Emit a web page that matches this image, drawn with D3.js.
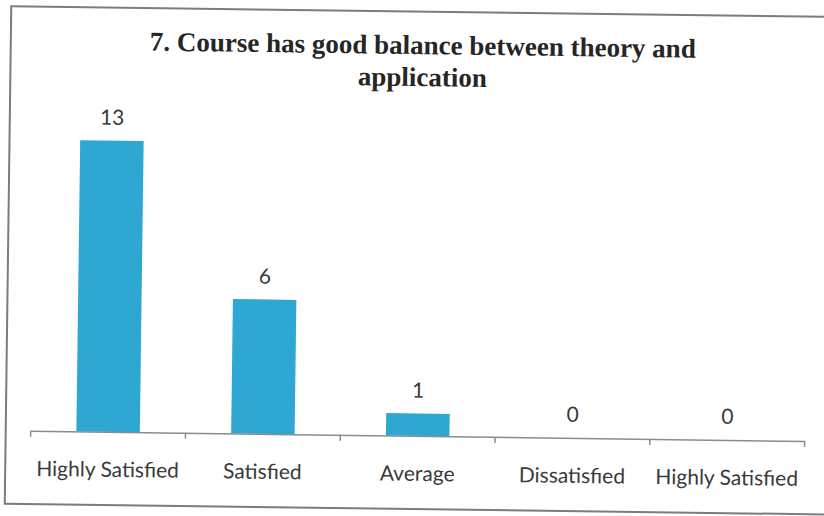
<!DOCTYPE html>
<html>
<head>
<meta charset="utf-8">
<script src="https://cdn.jsdelivr.net/npm/d3@7"></script>
<style>
  html, body { margin: 0; padding: 0; background: #ffffff; }
  svg { display: block; }
</style>
</head>
<body>
<svg id="chart" width="824" height="516"></svg>
<script>
const categories = ["Highly Satisfied", "Satisfied", "Average", "Dissatisfied", "Highly Satisfied "];
const values = [13, 6, 1, 0, 0];
const titleLines = ["7. Course has good balance between theory and", "application"];

const W = 824, H = 516;
const svg = d3.select("#chart");
svg.append("rect").attr("width", W).attr("height", H).attr("fill", "#ffffff");

const g = svg.append("g").attr("transform", "rotate(0.75, 412, 258)");

// frame
g.append("rect")
  .attr("x", 8).attr("y", 11.5).attr("width", 840).attr("height", 497.5)
  .attr("fill", "none").attr("stroke", "#7a7c80").attr("stroke-width", 2);

const x = d3.scaleBand().domain(categories).range([33, 807]).paddingInner(0.59).paddingOuter(0.295);
const y = d3.scaleLinear().domain([0, 14]).range([435.8, 122.2]);

// bars
g.selectAll("rect.bar").data(values).join("rect")
  .attr("class", "bar")
  .attr("x", (d, i) => x(categories[i]))
  .attr("width", x.bandwidth())
  .attr("y", d => y(d))
  .attr("height", d => y(0) - y(d))
  .attr("fill", "#2ea7d3");

// axis
const axis = d3.axisBottom(x).tickSize(0).tickFormat(d => d.trim());
const ax = g.append("g").attr("transform", `translate(0,${y(0)})`).call(axis);
ax.select(".domain").attr("stroke", "#8a8c90").attr("stroke-width", 1.5);
ax.selectAll(".tick text")
  .attr("y", 45).attr("dy", 0)
  .attr("font-family", "Lato, 'Open Sans', sans-serif")
  .attr("font-size", 21).attr("fill", "#3a3a3a");
// category boundary ticks
const bounds = d3.range(categories.length + 1).map(i => 33 + i * (807 - 33) / categories.length);
ax.selectAll("line.sep").data(bounds).join("line")
  .attr("class", "sep")
  .attr("x1", d => d).attr("x2", d => d)
  .attr("y1", 0).attr("y2", 6)
  .attr("stroke", "#8a8c90").attr("stroke-width", 1.5);

// data labels
g.selectAll("text.val").data(values).join("text")
  .attr("class", "val")
  .attr("x", (d, i) => x(categories[i]) + x.bandwidth() / 2)
  .attr("y", d => y(d) - 16)
  .attr("text-anchor", "middle")
  .attr("font-family", "Lato, 'Open Sans', sans-serif")
  .attr("font-size", 21).attr("fill", "#3a3a3a")
  .text(d => d);

// title
g.selectAll("text.title").data(titleLines).join("text")
  .attr("class", "title")
  .attr("x", 420)
  .attr("y", (d, i) => 54 + i * 32)
  .attr("text-anchor", "middle")
  .attr("font-family", "'Liberation Serif', 'Times New Roman', serif")
  .attr("font-weight", "bold")
  .attr("font-size", 27).attr("fill", "#262626")
  .text(d => d);
</script>
</body>
</html>
